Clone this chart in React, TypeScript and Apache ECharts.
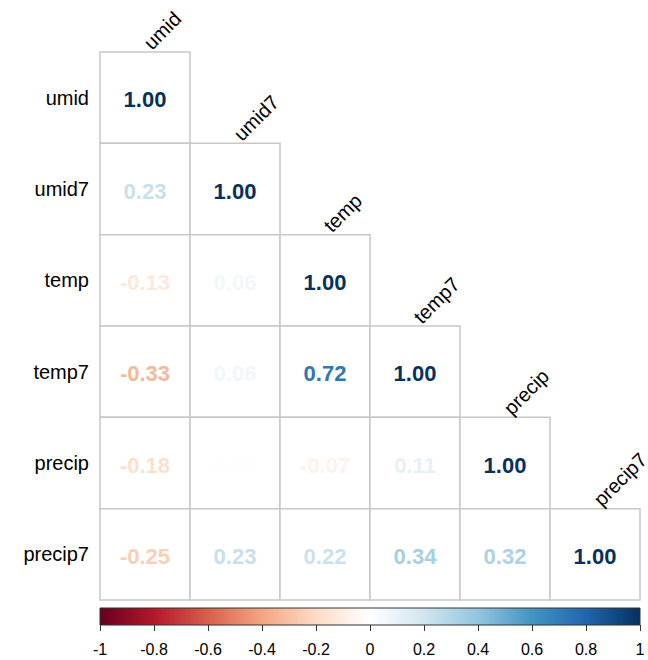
import React, { useEffect, useRef } from "react";
import * as echarts from "echarts";

const variables = ["umid", "umid7", "temp", "temp7", "precip", "precip7"];
// lower triangle rows: corr[i][j] for j <= i
const corrRows: number[][] = [
  [1.0],
  [0.23, 1.0],
  [-0.13, 0.06, 1.0],
  [-0.33, 0.06, 0.72, 1.0],
  [-0.18, 0.01, -0.07, 0.11, 1.0],
  [-0.25, 0.23, 0.22, 0.34, 0.32, 1.0],
];
const colorbarRange = [-1, 1];
const colorbarStep = 0.2;

const rdbuStops = ["#67001F", "#B2182B", "#D6604D", "#F4A582", "#FDDBC7", "#FFFFFF", "#D1E5F0", "#92C5DE", "#4393C3", "#2166AC", "#053061"];

function hexToRgb(h: string) {
  return [parseInt(h.slice(1, 3), 16), parseInt(h.slice(3, 5), 16), parseInt(h.slice(5, 7), 16)];
}
function rdbu(v: number) {
  const t = ((v + 1) / 2) * (rdbuStops.length - 1);
  const i = Math.max(0, Math.min(rdbuStops.length - 2, Math.floor(t)));
  const f = t - i;
  const a = hexToRgb(rdbuStops[i]);
  const b = hexToRgb(rdbuStops[i + 1]);
  const c = a.map((x, k) => Math.round(x + (b[k] - x) * f));
  return `rgb(${c[0]},${c[1]},${c[2]})`;
}

const FONT = "Liberation Sans, Arial, sans-serif";

export default function App() {
  const ref = useRef<HTMLDivElement>(null);
  useEffect(() => {
    if (!ref.current) return;
    const chart = echarts.init(ref.current, undefined, { renderer: "svg" });
    const cellData: number[][] = [];
    corrRows.forEach((row, i) => row.forEach((v, j) => cellData.push([j, i, v])));
    const diag = variables.map((_, i) => [i, i]);

    chart.setOption({
      animation: false,
      backgroundColor: "#ffffff",
      grid: [
        { left: 100, top: 52, width: 540, height: 548 },
        { left: 100, top: 608, width: 540, height: 17 },
      ],
      xAxis: [
        {
          gridIndex: 0,
          type: "category",
          data: variables,
          axisLine: { show: false },
          axisTick: { show: false },
          axisLabel: { show: false },
          splitLine: { show: false },
        },
        {
          gridIndex: 1,
          type: "value",
          min: colorbarRange[0],
          max: colorbarRange[1],
          interval: colorbarStep,
          axisLine: { show: false },
          axisTick: { show: true, length: 6, lineStyle: { color: "#333" } },
          splitLine: { show: false },
          axisLabel: {
            margin: 16,
            fontSize: 16,
            color: "#000",
            fontFamily: FONT,
            formatter: (v: number) => String(Math.round(v * 10) / 10),
          },
        },
      ],
      yAxis: [
        {
          gridIndex: 0,
          type: "category",
          data: variables,
          inverse: true,
          axisLine: { show: false },
          axisTick: { show: false },
          splitLine: { show: false },
          axisLabel: { margin: 11, fontSize: 20, color: "#000", fontFamily: FONT },
        },
        { gridIndex: 1, type: "value", min: 0, max: 1, show: false },
      ],
      series: [
        {
          type: "custom",
          xAxisIndex: 0,
          yAxisIndex: 0,
          clip: false,
          data: cellData,
          renderItem: (params: any, api: any) => {
            const j = api.value(0);
            const i = api.value(1);
            const v = api.value(2);
            const c = api.coord([j, i]);
            const s = api.size([1, 1]);
            return {
              type: "group",
              children: [
                {
                  type: "rect",
                  shape: { x: c[0] - s[0] / 2, y: c[1] - s[1] / 2, width: s[0], height: s[1] },
                  style: { fill: "#ffffff", stroke: "#c8c8c8", lineWidth: 1.5 },
                },
                {
                  type: "text",
                  x: c[0],
                  y: c[1] + 2,
                  style: {
                    text: v.toFixed(2),
                    textAlign: "center",
                    textVerticalAlign: "middle",
                    fill: rdbu(v),
                    font: `bold 22px ${FONT}`,
                  },
                },
              ],
            };
          },
        },
        {
          type: "custom",
          xAxisIndex: 0,
          yAxisIndex: 0,
          clip: false,
          data: diag,
          renderItem: (params: any, api: any) => {
            const i = api.value(0);
            const c = api.coord([i, i]);
            const s = api.size([1, 1]);
            return {
              type: "text",
              x: c[0] + 9,
              y: c[1] - s[1] / 2 + 1,
              rotation: Math.PI / 4,
              style: {
                text: variables[i],
                textAlign: "left",
                textVerticalAlign: "bottom",
                fill: "#000",
                font: `20px ${FONT}`,
              },
            };
          },
        },
        {
          type: "custom",
          xAxisIndex: 1,
          yAxisIndex: 1,
          clip: false,
          data: [[colorbarRange[0], colorbarRange[1]]],
          renderItem: (params: any, api: any) => {
            const p0 = api.coord([api.value(0), 1]);
            const p1 = api.coord([api.value(1), 0]);
            return {
              type: "rect",
              shape: { x: p0[0], y: p0[1], width: p1[0] - p0[0], height: p1[1] - p0[1] },
              style: {
                fill: new echarts.graphic.LinearGradient(
                  0, 0, 1, 0,
                  rdbuStops.map((col, k) => ({ offset: k / (rdbuStops.length - 1), color: col }))
                ),
                stroke: "#333",
                lineWidth: 1,
              },
            };
          },
        },
      ],
    });
    return () => chart.dispose();
  }, []);
  return (
    <div
      ref={ref}
      style={{ position: "fixed", left: 0, top: 0, width: 648, height: 660, background: "#fff" }}
    />
  );
}
